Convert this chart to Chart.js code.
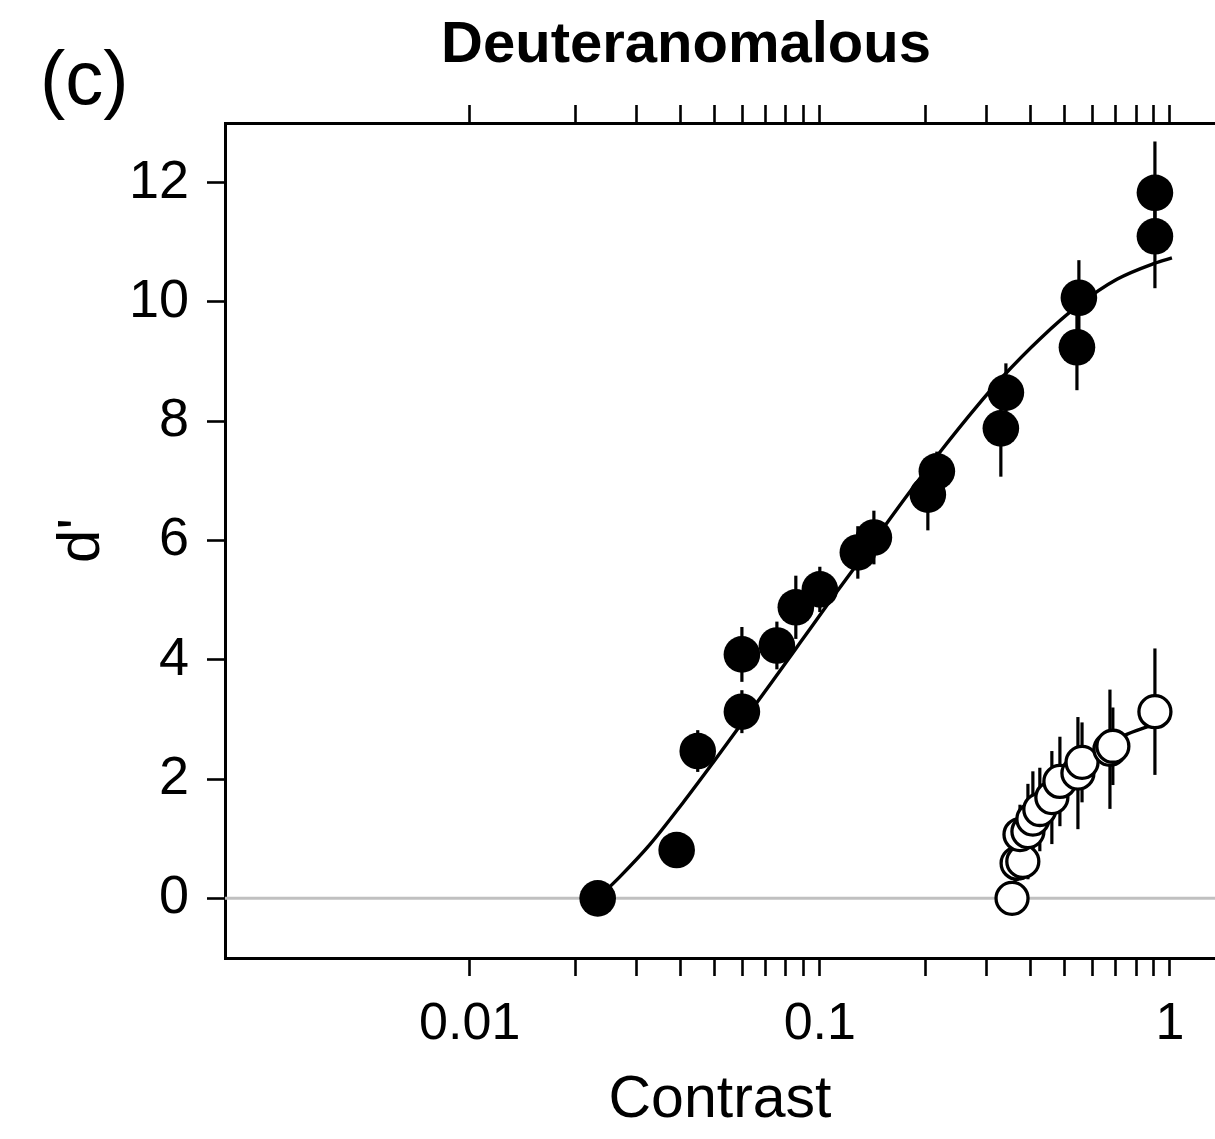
<!DOCTYPE html>
<html>
<head>
<meta charset="utf-8">
<title>Deuteranomalous</title>
<script src="https://cdn.jsdelivr.net/npm/chart.js@4.4.0/dist/chart.umd.min.js"></script>
<style>
  html, body { margin:0; padding:0; background:#fff; overflow:hidden; }
  canvas { display:block; }
</style>
</head>
<body>
<canvas id="chart" width="1215" height="1139"></canvas>
<script>
// panel (c) - d' vs contrast, deuteranomalous observer

// filled symbols
const filledContrast = [0.0232, 0.0390, 0.0448, 0.0599, 0.0599, 0.0754, 0.0854, 0.100, 0.1284, 0.1427, 0.2035, 0.2159, 0.3289, 0.340, 0.5425, 0.5495, 0.906, 0.906];
const filledDprime   = [0.00, 0.81, 2.47, 3.13, 4.09, 4.24, 4.88, 5.18, 5.80, 6.05, 6.77, 7.16, 7.88, 8.48, 9.24, 10.07, 11.10, 11.83];
const filledErr      = [0, 0.2, 0.35, 0.36, 0.46, 0.40, 0.53, 0.38, 0.44, 0.45, 0.60, 0.33, 0.81, 0.49, 0.72, 0.63, 0.87, 0.86];

// open symbols
const openContrast = [0.354, 0.366, 0.380, 0.373, 0.393, 0.406, 0.425, 0.460, 0.485, 0.546, 0.561, 0.674, 0.687, 0.906];
const openDprime   = [0.00, 0.59, 0.62, 1.07, 1.12, 1.33, 1.49, 1.69, 1.96, 2.10, 2.28, 2.50, 2.55, 3.13];
const openErr      = [0, 0.3, 0.3, 0.5, 0.8, 0.8, 0.7, 0.78, 0.75, 0.94, 0.67, 1.0, 0.65, 1.06];

// fitted curves
const fitFilledContrast = [0.0232, 0.02683, 0.03268, 0.04061, 0.04946, 0.06066, 0.0734, 0.08769, 0.1068, 0.1284, 0.1773, 0.2202, 0.2809, 0.3333, 0.4252, 0.5495, 0.7057, 0.9061, 1.0132];
const fitFilledDprime   = [0.00, 0.36, 0.90, 1.60, 2.27, 2.98, 3.65, 4.28, 4.98, 5.62, 6.75, 7.48, 8.25, 8.75, 9.38, 9.95, 10.38, 10.65, 10.74];
const fitOpenContrast = [0.352, 0.37, 0.40, 0.45, 0.50, 0.58, 0.687, 0.753, 0.864, 1.0];
const fitOpenDprime   = [0.00, 0.55, 1.10, 1.60, 1.95, 2.30, 2.62, 2.75, 2.88, 3.02];

// axes
const xTicks = [0.01, 0.02, 0.03, 0.04, 0.05, 0.06, 0.07, 0.08, 0.09, 0.1, 0.2, 0.3, 0.4, 0.5, 0.6, 0.7, 0.8, 0.9, 1];
const xLabels = [0.01, 0.1, 1];
const yTicks = [0, 2, 4, 6, 8, 10, 12];
const xMin = 0.002, xMax = 1.345;
const yMin = -1, yMax = 13;

const FONT = '"Liberation Sans", Arial, Helvetica, sans-serif';
Chart.defaults.font.family = FONT;
Chart.defaults.color = '#000';

const pts = (xs, ys) => xs.map((x, i) => ({x: x, y: ys[i]}));

// zero line, error bars and the panel texts
const extras = {
    id: 'extras',
    beforeDatasetsDraw(chart){
        const {ctx, chartArea, scales: {x, y}} = chart;
        ctx.save();
        ctx.lineCap = 'butt';
        ctx.strokeStyle = '#c0c0c0';
        ctx.lineWidth = 3;
        const y0 = y.getPixelForValue(0);
        ctx.beginPath();
        ctx.moveTo(chartArea.left, y0);
        ctx.lineTo(chartArea.right, y0);
        ctx.stroke();

        ctx.strokeStyle = '#000';
        ctx.lineWidth = 3.2;
        [[filledContrast, filledDprime, filledErr], [openContrast, openDprime, openErr]].forEach(([cx, cy, ce]) => {
            cx.forEach((c, i) => {
                if(!ce[i]) return;
                const px = x.getPixelForValue(c);
                ctx.beginPath();
                ctx.moveTo(px, y.getPixelForValue(cy[i] + ce[i]));
                ctx.lineTo(px, y.getPixelForValue(cy[i] - ce[i]));
                ctx.stroke();
            });
        });
        ctx.restore();
    },
    afterDraw(chart){
        const ctx = chart.ctx;
        ctx.save();
        ctx.fillStyle = '#000';
        ctx.textBaseline = 'alphabetic';
        ctx.textAlign = 'center';
        ctx.font = 'bold 58px ' + FONT;
        ctx.fillText('Deuteranomalous', 686, 62);
        ctx.textAlign = 'left';
        ctx.font = '76px ' + FONT;
        ctx.fillText('(c)', 40, 104);
        ctx.restore();
    }
};

const axisStyle = {
    grid: {drawOnChartArea: false, drawTicks: true, tickLength: 18, tickColor: '#000', tickWidth: 2.6},
    border: {display: true, color: '#000', width: 3}
};

// keep the plot box where the reference has it
const fixX = h => s => { s.height = h; s.paddingLeft = 0; s.paddingRight = 0; };

new Chart(document.getElementById('chart').getContext('2d'), {
    type: 'scatter',
    data: {
        datasets: [
            {label: 'filled', data: pts(filledContrast, filledDprime), pointRadius: 18.3, pointBackgroundColor: '#000', pointBorderWidth: 0, showLine: false, order: 0},
            {label: 'open', data: pts(openContrast, openDprime), pointRadius: 16, pointBackgroundColor: '#fff', pointBorderColor: '#000', pointBorderWidth: 3.3, showLine: false, order: 1},
            {type: 'line', label: 'fit filled', data: pts(fitFilledContrast, fitFilledDprime), borderColor: '#000', borderWidth: 3.4, pointRadius: 0, cubicInterpolationMode: 'monotone', order: 2},
            {type: 'line', label: 'fit open', data: pts(fitOpenContrast, fitOpenDprime), borderColor: '#000', borderWidth: 3.4, pointRadius: 0, cubicInterpolationMode: 'monotone', order: 3}
        ]
    },
    options: {
        responsive: false,
        animation: false,
        layout: {padding: 0, autoPadding: false},
        plugins: {legend: {display: false}, tooltip: {enabled: false}},
        scales: {
            x: {
                type: 'logarithmic', position: 'bottom', min: xMin, max: xMax,
                ...axisStyle,
                afterBuildTicks: s => { s.ticks = xTicks.map(v => ({value: v})); },
                afterFit: fixX(181),
                ticks: {autoSkip: false, maxRotation: 0, padding: 17, font: {size: 52},
                    callback: v => xLabels.includes(v) ? String(v) : ''},
                title: {display: true, text: 'Contrast', font: {size: 59}, padding: {top: 0, bottom: 3}}
            },
            x2: {
                type: 'logarithmic', position: 'top', min: xMin, max: xMax,
                ...axisStyle,
                afterBuildTicks: s => { s.ticks = xTicks.map(v => ({value: v})); },
                afterFit: fixX(123),
                ticks: {display: false, autoSkip: false}
            },
            y: {
                type: 'linear', position: 'left', min: yMin, max: yMax,
                ...axisStyle,
                afterBuildTicks: s => { s.ticks = yTicks.map(v => ({value: v})); },
                afterFit: s => { s.width = 225; s.paddingTop = 0; s.paddingBottom = 0; },
                ticks: {padding: 18, font: {size: 54}},
                title: {display: true, text: "d'", font: {size: 60}, padding: {top: 46}}
            }
        }
    },
    plugins: [extras]
});
</script>
</body>
</html>
